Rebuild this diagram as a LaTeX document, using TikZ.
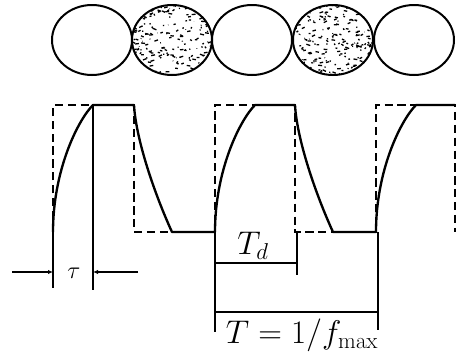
\RequirePackage{fix-cm}
\documentclass[tikz,border=0pt]{standalone}
\usepackage{amsmath,amssymb}
\usepackage{tikz}
\usetikzlibrary{arrows.meta,calc,shapes.geometric}

\begin{document}
\begin{tikzpicture}[
  x=0.03cm, y=-0.03cm,
  bit/.style={draw, ellipse, line width=1.7pt, inner sep=0pt,
              minimum width=2.4cm, minimum height=2.1cm},
  speck/.style={line width=1.1pt},
  ideal/.style={line width=1.4pt, dash pattern=on 7pt off 4pt},
  real/.style={line width=2pt, line join=round},
  markline/.style={line width=1.8pt},
  dimarrow/.style={line width=1.8pt, -{Latex[length=1.5mm,width=1.3mm]}},
  lbl/.style={font=\fontsize{28}{32}\selectfont, inner sep=0pt}
]
  \useasboundingbox (0,0) rectangle (469,355);

  % bit cells
  \node[bit] (c1) at (92,40) {};
  \node[bit] (c2) at (172,40) {};
  \node[bit] (c3) at (252,40) {};
  \node[bit] (c4) at (333,40) {};
  \node[bit] (c5) at (414,40) {};
  \foreach \c in {c2,c4} {
    \begin{scope}
      \clip (\c.center) ellipse [x radius=1.18cm, y radius=1.03cm];
      \foreach \k in {1,...,220}
        \draw[speck] ($(\c.center)+(rand*1.2cm,rand*1.05cm)$) -- ++(rand*0.12cm,rand*0.05cm);
    \end{scope}
  }

  % ideal pulses
  \draw[ideal] (53,232) -- (53,105) -- (134,105) -- (134,232) -- (215,232)
    -- (215,105) -- (295,105) -- (295,232) -- (376,232) -- (376,105)
    -- (455,105) -- (455,232);

  % real waveform
  \draw[real] (53,232) .. controls (53,170) and (78,120) .. (93,105) -- (134,105)
    .. controls (136,140) and (155,195) .. (172,232) -- (215,232)
    .. controls (215,170) and (240,120) .. (255,105) -- (295,105)
    .. controls (297,140) and (316,195) .. (333,232) -- (376,232)
    .. controls (376,170) and (401,120) .. (416,105) -- (455,105);

  % rise time
  \coordinate (tauA) at (53,272);
  \coordinate (tauB) at (93,272);
  \draw[markline] (53,232) -- (53,288);
  \draw[markline] (93,105) -- (93,290);
  \draw[dimarrow] (12,272) -- (tauA);
  \draw[dimarrow] (138,272) -- (tauB);
  \node[font=\huge, inner sep=0pt] (tau) at (74,273) {$\tau$};

  % bit duration
  \draw[markline] (215,232) -- (215,332);
  \draw[markline] (297,232) -- (297,275);
  \draw[markline] (215,263) -- (297,263);
  \node[lbl] (td) at (253,246) {$T_d$};

  % period
  \draw[markline] (378,232) -- (378,330);
  \draw[markline] (215,312) -- (378,312);
  \node[lbl] (period) at (302,335) {$T=1/f_{\mathrm{max}}$};
\end{tikzpicture}
\end{document}
